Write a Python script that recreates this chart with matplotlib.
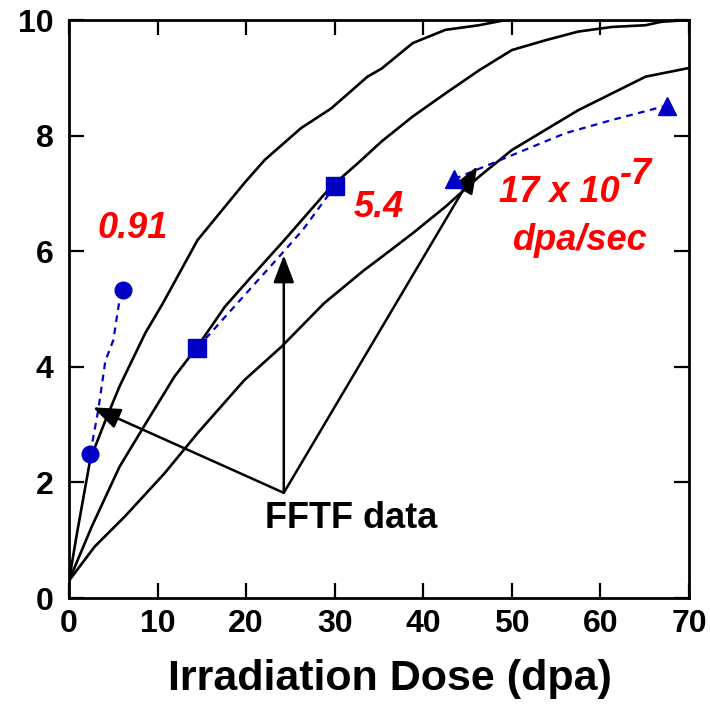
import matplotlib
matplotlib.use("Agg")
from matplotlib import pyplot as plt

plt.rcParams['font.family'] = ['Liberation Sans', 'DejaVu Sans']
plt.rcParams['font.weight'] = 'bold'

# three model curves
c1_x = [0, 0.9, 2.4, 4.0, 5.7, 8.6, 10.6, 14.5, 19.8, 22.1, 26.2, 29.6, 33.7, 35.3, 38.8, 42.5, 46.3, 49.3, 55, 62, 70]
c1_y = [0.3, 1.12, 2.4, 3.03, 3.66, 4.58, 5.1, 6.19, 7.18, 7.58, 8.13, 8.47, 9.02, 9.16, 9.6, 9.83, 9.91, 10.0, 10.0, 10.0, 10.0]

c2_x = [0, 2.55, 5.7, 8.9, 11.9, 14.5, 17.6, 20.6, 24.3, 29.6, 32.6, 35.3, 38.8, 42.5, 46.3, 50.0, 53.8, 57.5, 61.3, 65.1, 66.9, 70]
c2_y = [0.3, 1.23, 2.27, 3.08, 3.83, 4.35, 5.04, 5.56, 6.19, 7.12, 7.52, 7.9, 8.33, 8.73, 9.13, 9.48, 9.65, 9.8, 9.88, 9.91, 9.97, 10.0]

c3_x = [0, 2.9, 6.3, 10.8, 14.5, 19.8, 24.0, 28.8, 33.3, 35.3, 38.8, 42.5, 46.3, 50.0, 53.8, 57.5, 61.3, 65.1, 70]
c3_y = [0.3, 0.89, 1.41, 2.16, 2.85, 3.77, 4.35, 5.1, 5.67, 5.9, 6.31, 6.77, 7.29, 7.75, 8.1, 8.44, 8.73, 9.02, 9.17]

# FFTF data points and dashed guide lines
circ_x = [2.4, 6.1]
circ_y = [2.5, 5.33]
circ_path_x = [2.4, 3.3, 4.1, 5.0, 5.75, 6.1]
circ_path_y = [2.5, 3.25, 4.1, 4.46, 5.2, 5.33]

sq_x = [14.5, 30.0]
sq_y = [4.33, 7.12]
sq_path_x = [14.5, 20.7, 24.1, 26.4, 30.0]
sq_path_y = [4.33, 5.39, 5.97, 6.37, 7.12]

tri_x = [43.5, 67.5]
tri_y = [7.25, 8.52]
tri_path_x = [43.5, 50.0, 56.0, 61.3, 67.5]
tri_path_y = [7.25, 7.66, 8.04, 8.27, 8.52]

arrow_from = (24.25, 1.82)
arrow_tips = [(2.7, 3.3), (24.25, 5.93), (46.1, 7.47)]

xticks = [0, 10, 20, 30, 40, 50, 60, 70]
yticks = [0, 2, 4, 6, 8, 10]

blue = '#0000c4'
red = '#ff0000'

fig = plt.figure(figsize=(7.1, 7.15), dpi=100)
ax = fig.add_axes([0.0972, 0.1636, 0.8732, 0.8084])

for cx, cy in [(c1_x, c1_y), (c2_x, c2_y), (c3_x, c3_y)]:
    ax.plot(cx, cy, color='black', lw=1.9)

ax.plot(circ_path_x, circ_path_y, color=blue, lw=1.6, ls=(0, (3, 2.5)))
ax.plot(sq_path_x, sq_path_y, color=blue, lw=1.6, ls=(0, (3, 2.5)))
ax.plot(tri_path_x, tri_path_y, color=blue, lw=1.6, ls=(0, (3, 2.5)))
ax.plot(circ_x, circ_y, 'o', color=blue, ms=12, zorder=5)
ax.plot(sq_x, sq_y, 's', color=blue, ms=13, zorder=5)
ax.plot(tri_x, tri_y, '^', color=blue, ms=12.5, zorder=5)

for tip in arrow_tips:
    ax.annotate('', xy=tip, xytext=arrow_from,
                arrowprops=dict(arrowstyle='-|>,head_length=0.42,head_width=0.16',
                                color='black', lw=1.8,
                                mutation_scale=40, shrinkA=0, shrinkB=0))

ax.text(31.8, 1.38, 'FFTF data', fontsize=26, fontweight='bold', ha='center', va='center')
ax.text(7.15, 6.4, '0.91', fontsize=26, color=red, style='italic', ha='center', va='center')
ax.text(35.0, 6.76, '5.4', fontsize=26, color=red, style='italic', ha='center', va='center')
t1 = ax.text(48.5, 6.86, '17 x 10', fontsize=26, color=red, style='italic', ha='left', va='baseline')
ax.annotate('-7', xy=(1.0, 0.5), xycoords=t1, fontsize=26, color=red, style='italic',
            ha='left', va='bottom')
ax.text(57.7, 6.02, 'dpa/sec', fontsize=26, color=red, style='italic', ha='center', va='baseline')

ax.set_xlim(0, 70)
ax.set_ylim(0, 10)
ax.set_xticks(xticks)
ax.set_yticks(yticks)
ax.tick_params(axis='both', direction='in', length=11, width=1.6, labelsize=23,
               top=True, right=True)
ax.tick_params(axis='x', pad=8)
ax.tick_params(axis='y', pad=11)
for s in ax.spines.values():
    s.set_linewidth(2)

ax.set_xlabel('Irradiation Dose (dpa)', fontsize=31, fontweight='bold')
ax.xaxis.set_label_coords(0.518, -0.106)

plt.savefig('out.png', dpi=100)
